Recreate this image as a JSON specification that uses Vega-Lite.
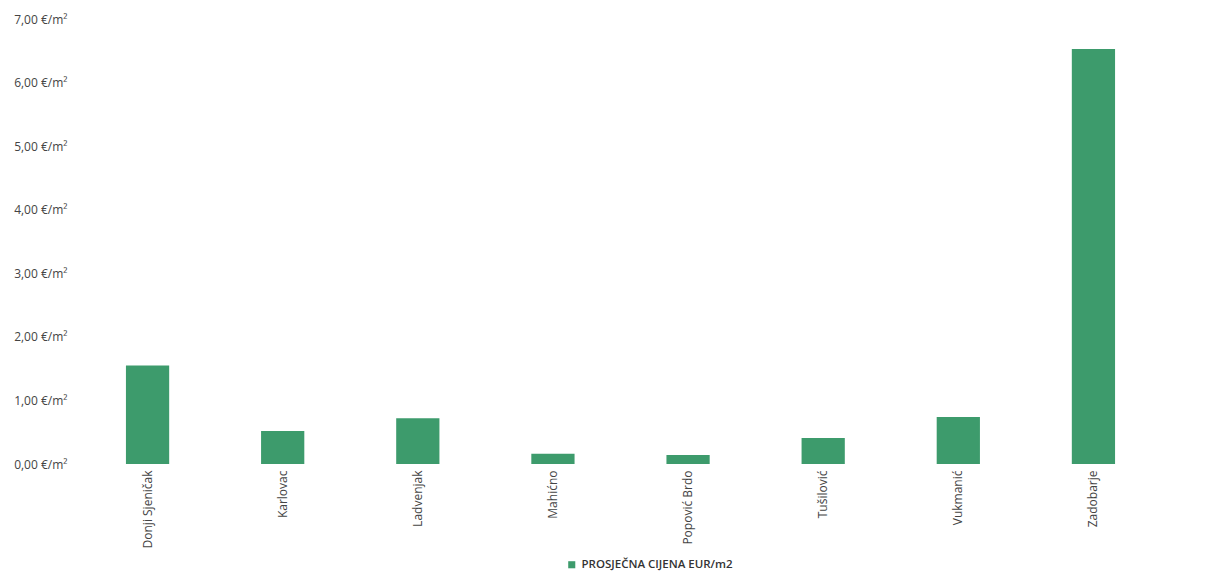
{
  "$schema": "https://vega.github.io/schema/vega-lite/v6.json",
  "width": 1081,
  "height": 445,
  "autosize": {"type": "none"},
  "padding": {"left": 80, "top": 19, "right": 50, "bottom": 110},
  "background": "white",
  "config": {"view": {"stroke": null}, "font": "Open Sans"},
  "data": {
    "values": [
      {"naselje": "Donji Sjeničak", "cijena": 1.55, "serija": "PROSJEČNA CIJENA EUR/m2"},
      {"naselje": "Karlovac", "cijena": 0.52, "serija": "PROSJEČNA CIJENA EUR/m2"},
      {"naselje": "Ladvenjak", "cijena": 0.72, "serija": "PROSJEČNA CIJENA EUR/m2"},
      {"naselje": "Mahićno", "cijena": 0.16, "serija": "PROSJEČNA CIJENA EUR/m2"},
      {"naselje": "Popović Brdo", "cijena": 0.14, "serija": "PROSJEČNA CIJENA EUR/m2"},
      {"naselje": "Tušilović", "cijena": 0.41, "serija": "PROSJEČNA CIJENA EUR/m2"},
      {"naselje": "Vukmanić", "cijena": 0.74, "serija": "PROSJEČNA CIJENA EUR/m2"},
      {"naselje": "Zadobarje", "cijena": 6.53, "serija": "PROSJEČNA CIJENA EUR/m2"}
    ]
  },
  "mark": {"type": "bar"},
  "encoding": {
    "x": {
      "field": "naselje",
      "type": "nominal",
      "sort": null,
      "scale": {"paddingInner": 0.68, "paddingOuter": 0.34},
      "axis": {
        "title": null,
        "labelAngle": -90,
        "labelFontSize": 12,
        "labelColor": "#444444",
        "labelPadding": 6,
        "domain": false,
        "ticks": false
      }
    },
    "y": {
      "field": "cijena",
      "type": "quantitative",
      "scale": {"domain": [0, 7], "nice": false},
      "axis": {
        "title": null,
        "values": [0, 1, 2, 3, 4, 5, 6, 7],
        "labelExpr": "replace(format(datum.value, '.2f'), '.', ',') + ' €/m²'",
        "labelFontSize": 12,
        "labelColor": "#444444",
        "labelPadding": 13,
        "domain": false,
        "ticks": false,
        "grid": false
      }
    },
    "color": {
      "field": "serija",
      "type": "nominal",
      "scale": {"range": ["#3d9b6c"]},
      "legend": {
        "title": null,
        "orient": "none",
        "legendX": 486,
        "legendY": 540,
        "symbolType": "square",
        "symbolSize": 50,
        "labelFontSize": 11.5,
        "labelColor": "#333333",
        "labelFontWeight": 600
      }
    }
  }
}
